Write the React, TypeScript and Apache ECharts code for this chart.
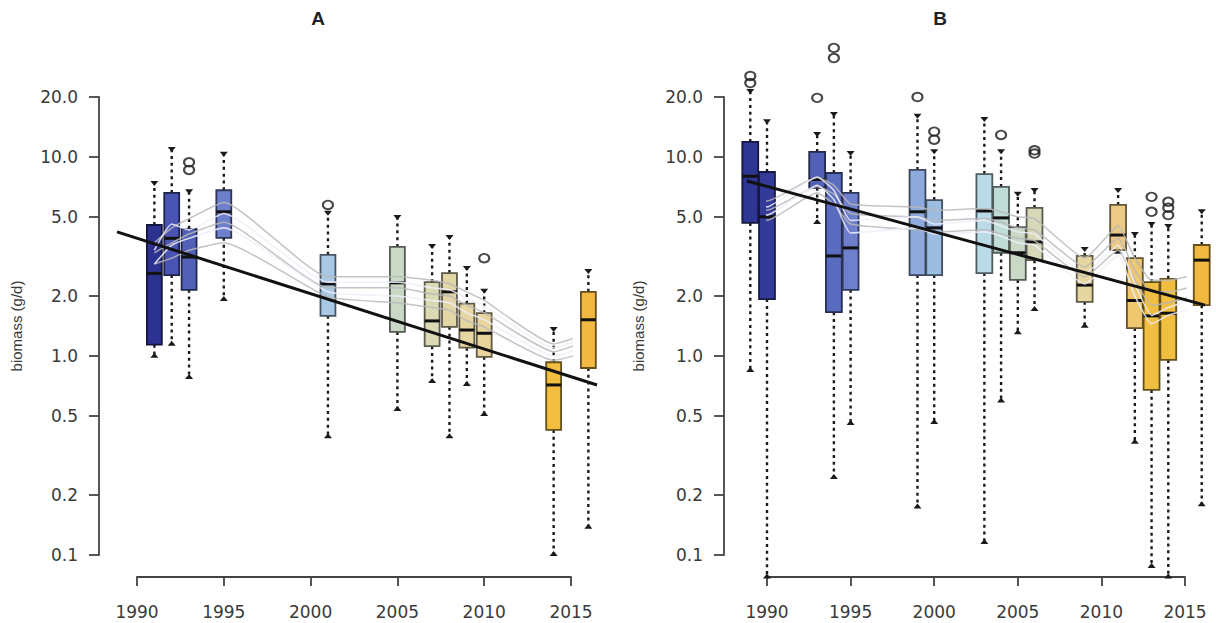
import React, { useEffect, useRef } from 'react';
import * as echarts from 'echarts';

// ---------- axis ticks ----------
const Y_TICKS = [0.1, 0.2, 0.5, 1, 2, 5, 10, 20];
const X_MIN = 1990;
const X_MAX = 2015;
const Y_MIN = 0.1;
const Y_MAX = 20;

// ---------- Panel A data (box statistics, g/d) ----------
const A_YEARS = [1991, 1992, 1993, 1995, 2001, 2005, 2007, 2008, 2009, 2010, 2014, 2016];
const A_LOW = [0.99, 1.14, 0.775, 1.91, 0.39, 0.535, 0.74, 0.39, 0.715, 0.505, 0.1, 0.137];
const A_Q1 = [1.14, 2.55, 2.15, 3.92, 1.59, 1.32, 1.12, 1.4, 1.1, 0.99, 0.425, 0.87];
const A_MED = [2.6, 3.9, 3.14, 5.3, 2.3, 2.33, 1.5, 2.1, 1.35, 1.3, 0.715, 1.52];
const A_Q3 = [4.55, 6.59, 4.35, 6.8, 3.22, 3.53, 2.35, 2.61, 1.83, 1.64, 0.93, 2.1];
const A_HIGH = [7.49, 11.1, 6.8, 10.5, 5.3, 5.05, 3.61, 4.0, 2.8, 2.15, 1.38, 2.7];
const A_OUT_YEARS = [1993, 1993, 2001, 2010];
const A_OUT_VALUES = [9.4, 8.6, 5.74, 3.1];
const A_TREND_U = [3.7, 4.4, 4.9, 5.9, 2.5, 2.5, 2.4, 2.3, 2.1, 1.9, 1.15, 1.3];
const A_TREND_M = [3.3, 3.7, 4.1, 4.7, 2.2, 2.2, 2.05, 2.0, 1.8, 1.65, 1.05, 1.2];
const A_TREND_L = [2.9, 3.1, 3.4, 3.7, 1.98, 1.85, 1.75, 1.7, 1.5, 1.4, 0.95, 1.05];
const A_WHITE_1 = [3.4, 4.6, 4.3, 5.2, 2.35, 2.35, 2.2, 2.15, 1.95, 1.78, 1.1, 1.25];
const A_WHITE_2 = [2.9, 3.6, 3.9, 4.4, 2.1, 2.0, 1.9, 1.85, 1.65, 1.52, 1.0, 1.12];
const A_FIT_YEARS = [1988.85, 2016.5];
const A_FIT_VALUES = [4.2, 0.715];

// ---------- Panel B data ----------
const B_YEARS = [1989, 1990, 1993, 1994, 1995, 1999, 2000, 2003, 2004, 2005, 2006, 2009, 2011, 2012, 2013, 2014, 2016];
const B_LOW = [0.84, 0.077, 4.66, 0.244, 0.455, 0.173, 0.46, 0.115, 0.59, 1.3, 1.7, 1.4, 3.3, 0.366, 0.087, 0.077, 0.178];
const B_Q1 = [4.66, 1.93, 7.0, 1.66, 2.15, 2.55, 2.55, 2.61, 3.3, 2.41, 3.03, 1.87, 3.4, 1.38, 0.675, 0.955, 1.8];
const B_MED = [8.0, 5.0, 7.7, 3.18, 3.49, 5.3, 4.4, 5.35, 4.94, 3.3, 3.74, 2.27, 4.05, 1.9, 1.59, 1.64, 3.03];
const B_Q3 = [11.9, 8.4, 10.6, 8.3, 6.6, 8.6, 6.07, 8.2, 7.07, 4.44, 5.54, 3.18, 5.74, 3.1, 2.35, 2.44, 3.61];
const B_HIGH = [21.7, 15.3, 13.2, 16.6, 10.6, 16.3, 10.8, 15.7, 10.8, 6.6, 6.9, 3.49, 6.9, 4.15, 4.66, 4.55, 5.4];
const B_OUT_YEARS = [1989, 1989, 1993, 1994, 1994, 1999, 2000, 2000, 2004, 2006, 2006, 2013, 2013, 2014, 2014, 2014];
const B_OUT_VALUES = [25.5, 23.5, 19.8, 35.3, 31.4, 20.0, 13.4, 12.2, 12.9, 10.8, 10.4, 6.3, 5.3, 5.95, 5.55, 5.1];
const B_TREND_U = [6.5, 6.0, 7.9, 7.2, 5.8, 5.6, 5.4, 5.5, 5.3, 5.0, 4.9, 3.1, 4.5, 3.1, 2.4, 2.4, 2.6];
const B_TREND_M = [5.9, 5.4, 7.1, 6.5, 5.2, 5.0, 4.8, 4.9, 4.7, 4.4, 4.3, 2.8, 3.9, 2.7, 2.1, 2.1, 2.3];
const B_TREND_L = [5.2, 4.8, 6.6, 5.8, 4.6, 4.3, 4.2, 4.3, 4.1, 3.9, 3.8, 2.5, 3.4, 2.4, 1.8, 1.85, 2.05];
const B_WHITE_1 = [8.6, 5.6, 7.9, 6.8, 4.8, 5.0, 4.6, 4.8, 4.5, 4.2, 4.1, 2.6, 3.6, 2.3, 1.6, 1.75, 2.0];
const B_WHITE_2 = [6.8, 5.1, 7.2, 6.1, 4.15, 4.4, 4.1, 4.2, 4.0, 3.7, 3.6, 2.3, 3.2, 2.0, 1.45, 1.6, 1.8];
const B_FIT_YEARS = [1988.8, 2016.2];
const B_FIT_VALUES = [7.57, 1.8];

// ---------- styles ----------
const YEAR_COLORS: Record<number, string> = {
  1989: '#2f3592', 1990: '#333a98', 1991: '#2c3290', 1992: '#4a54b2', 1993: '#5360b8',
  1994: '#5a6cc0', 1995: '#6e7fcc', 1999: '#8eaadc', 2000: '#9cbce2', 2001: '#a9c8e6',
  2003: '#b9dae6', 2004: '#bfdcd6', 2005: '#c9d9c6', 2006: '#d6d8b8', 2007: '#dcdab4',
  2008: '#e2d6a6', 2009: '#e6d6a2', 2010: '#e8d49c', 2011: '#ecca86', 2012: '#eec76e',
  2013: '#f0be42', 2014: '#f1be40', 2016: '#f1b842',
};
const FONT = "'DejaVu Sans', 'Liberation Sans', Arial, sans-serif";
const TEXT_COLOR = '#3a3a3a';
const AXIS_COLOR = '#444';

function darken(hex: string, k: number) {
  const n = parseInt(hex.slice(1), 16);
  const r = Math.round(((n >> 16) & 255) * k);
  const g = Math.round(((n >> 8) & 255) * k);
  const b = Math.round((n & 255) * k);
  return `rgb(${r},${g},${b})`;
}

function boxSeries(idx: number, years: number[], low: number[], q1: number[], med: number[], q3: number[], high: number[], widthFrac: number) {
  const data = years.map((y, i) => [y, low[i], q1[i], med[i], q3[i], high[i]]);
  return {
    type: 'custom',
    xAxisIndex: idx,
    yAxisIndex: idx,
    clip: false,
    z: 2,
    silent: true,
    encode: { x: 0, y: [1, 2, 3, 4, 5] },
    data,
    renderItem: (params: any, api: any) => {
      const x = api.value(0);
      const pLow = api.coord([x, api.value(1)]);
      const pQ1 = api.coord([x, api.value(2)]);
      const pMed = api.coord([x, api.value(3)]);
      const pQ3 = api.coord([x, api.value(4)]);
      const pHigh = api.coord([x, api.value(5)]);
      const unit = api.coord([x + 0.5, api.value(3)])[0] - api.coord([x - 0.5, api.value(3)])[0];
      const w = unit * widthFrac;
      const cx = pMed[0];
      const fill = YEAR_COLORS[x] || '#999999';
      const stroke = darken(fill, 0.42);
      const dash = { stroke: '#1a1a1a', lineWidth: 2.4, lineDash: [3, 3.8] };
      return {
        type: 'group',
        children: [
          { type: 'line', shape: { x1: cx, y1: pQ3[1], x2: cx, y2: pHigh[1] }, style: dash },
          { type: 'line', shape: { x1: cx, y1: pQ1[1], x2: cx, y2: pLow[1] }, style: dash },
          {
            type: 'polygon',
            shape: { points: [[cx - 4, pHigh[1] - 1], [cx + 4, pHigh[1] - 1], [cx, pHigh[1] + 4]] },
            style: { fill: '#1a1a1a' },
          },
          {
            type: 'polygon',
            shape: { points: [[cx - 4, pLow[1] + 1], [cx + 4, pLow[1] + 1], [cx, pLow[1] - 4]] },
            style: { fill: '#1a1a1a' },
          },
          {
            type: 'rect',
            shape: { x: cx - w / 2, y: pQ3[1], width: w, height: pQ1[1] - pQ3[1] },
            style: { fill, stroke, lineWidth: 1.8 },
          },
          {
            type: 'line',
            shape: { x1: cx - w / 2, y1: pMed[1], x2: cx + w / 2, y2: pMed[1] },
            style: { stroke: '#111', lineWidth: 3 },
          },
        ],
      };
    },
  };
}

function lineSeries(idx: number, years: number[], values: number[], color: string, width: number, z: number, smooth: number | boolean) {
  return {
    type: 'line',
    xAxisIndex: idx,
    yAxisIndex: idx,
    data: years.map((y, i) => [y, values[i]]),
    showSymbol: false,
    symbol: 'none',
    clip: false,
    smooth,
    silent: true,
    z,
    lineStyle: { color, width },
  };
}

function fitSeries(idx: number, years: number[], values: number[]) {
  return {
    type: 'custom',
    xAxisIndex: idx,
    yAxisIndex: idx,
    clip: false,
    silent: true,
    z: 5,
    encode: { x: [0, 2], y: [1, 3] },
    data: [[years[0], values[0], years[1], values[1]]],
    renderItem: (params: any, api: any) => {
      const p1 = api.coord([api.value(0), api.value(1)]);
      const p2 = api.coord([api.value(2), api.value(3)]);
      return {
        type: 'line',
        shape: { x1: p1[0], y1: p1[1], x2: p2[0], y2: p2[1] },
        style: { stroke: '#111', lineWidth: 3 },
      };
    },
  };
}

function outlierSeries(idx: number, years: number[], values: number[]) {
  return {
    type: 'scatter',
    xAxisIndex: idx,
    yAxisIndex: idx,
    data: years.map((y, i) => [y, values[i]]),
    symbol: 'circle',
    symbolSize: [10, 8.5],
    clip: false,
    silent: true,
    z: 3,
    itemStyle: { color: 'rgba(255,255,255,0)', borderColor: '#1a1a1a', borderWidth: 2 },
  };
}

function xAxis(idx: number) {
  return {
    type: 'value',
    gridIndex: idx,
    min: X_MIN,
    max: X_MAX,
    interval: 5,
    offset: 22,
    axisLine: { show: true, lineStyle: { color: AXIS_COLOR, width: 1.8 } },
    axisTick: { show: true, length: 9, lineStyle: { color: AXIS_COLOR, width: 1.8 } },
    axisLabel: {
      color: TEXT_COLOR, fontFamily: FONT, fontSize: 17, margin: 26,
      showMinLabel: true, showMaxLabel: true,
      formatter: (v: number) => String(v),
    },
    splitLine: { show: false },
  };
}

function yAxis(idx: number, offset: number, nameGap: number) {
  return {
    type: 'log',
    logBase: 10,
    gridIndex: idx,
    min: Y_MIN,
    max: Y_MAX,
    offset,
    name: 'biomass (g/d)',
    nameLocation: 'middle',
    nameGap,
    nameTextStyle: { color: TEXT_COLOR, fontFamily: "'Liberation Sans', Arial, sans-serif", fontSize: 15 },
    axisLine: { show: true, lineStyle: { color: AXIS_COLOR, width: 1.8 } },
    axisTick: { show: true, length: 10, customValues: Y_TICKS, lineStyle: { color: AXIS_COLOR, width: 1.8 } },
    axisLabel: {
      color: TEXT_COLOR,
      fontFamily: FONT,
      fontSize: 17,
      margin: 21,
      customValues: Y_TICKS,
      formatter: (v: number) => Number(v).toFixed(1),
    },
    splitLine: { show: false },
  };
}

export default function App() {
  const ref = useRef<HTMLDivElement>(null);
  useEffect(() => {
    if (!ref.current) return;
    const chart = echarts.init(ref.current, null, { renderer: 'svg' });
    const gray = 'rgba(185,185,185,0.85)';
    const white = 'rgba(238,238,250,0.85)';
    const titleStyle = { fontFamily: "'Liberation Sans', Arial, sans-serif", fontWeight: 'bold', fontSize: 19, fill: '#222', textAlign: 'center', textVerticalAlign: 'middle' };
    const option: any = {
      animation: false,
      backgroundColor: '#ffffff',
      graphic: [
        { type: 'text', x: 318, y: 18, style: { ...titleStyle, text: 'A' } },
        { type: 'text', x: 940, y: 18, style: { ...titleStyle, text: 'B' } },
      ],
      grid: [
        { left: 137, top: 97, width: 434, height: 458 },
        { left: 767, top: 97, width: 418, height: 458 },
      ],
      xAxis: [xAxis(0), xAxis(1)],
      yAxis: [yAxis(0, 38, 75), yAxis(1, 43, 78)],
      series: [
        boxSeries(0, A_YEARS, A_LOW, A_Q1, A_MED, A_Q3, A_HIGH, 0.86),
        outlierSeries(0, A_OUT_YEARS, A_OUT_VALUES),
        lineSeries(0, A_YEARS, A_TREND_U, gray, 1.5, 3, 0.15),
        lineSeries(0, A_YEARS, A_TREND_M, gray, 1.5, 3, 0.15),
        lineSeries(0, A_YEARS, A_TREND_L, gray, 1.5, 3, 0.15),
        lineSeries(0, A_YEARS, A_WHITE_1, white, 1.6, 3, 0.15),
        lineSeries(0, A_YEARS, A_WHITE_2, white, 1.6, 3, 0.15),
        fitSeries(0, A_FIT_YEARS, A_FIT_VALUES),
        boxSeries(1, B_YEARS, B_LOW, B_Q1, B_MED, B_Q3, B_HIGH, 0.95),
        outlierSeries(1, B_OUT_YEARS, B_OUT_VALUES),
        lineSeries(1, B_YEARS, B_TREND_U, gray, 1.5, 3, 0.15),
        lineSeries(1, B_YEARS, B_TREND_M, gray, 1.5, 3, 0.15),
        lineSeries(1, B_YEARS, B_TREND_L, gray, 1.5, 3, 0.15),
        lineSeries(1, B_YEARS, B_WHITE_1, white, 1.6, 3, 0.15),
        lineSeries(1, B_YEARS, B_WHITE_2, white, 1.6, 3, 0.15),
        fitSeries(1, B_FIT_YEARS, B_FIT_VALUES),
      ],
    };
    chart.setOption(option);
    return () => chart.dispose();
  }, []);
  return <div ref={ref} style={{ position: 'absolute', left: 0, top: 0, width: 1216, height: 623 }} />;
}
